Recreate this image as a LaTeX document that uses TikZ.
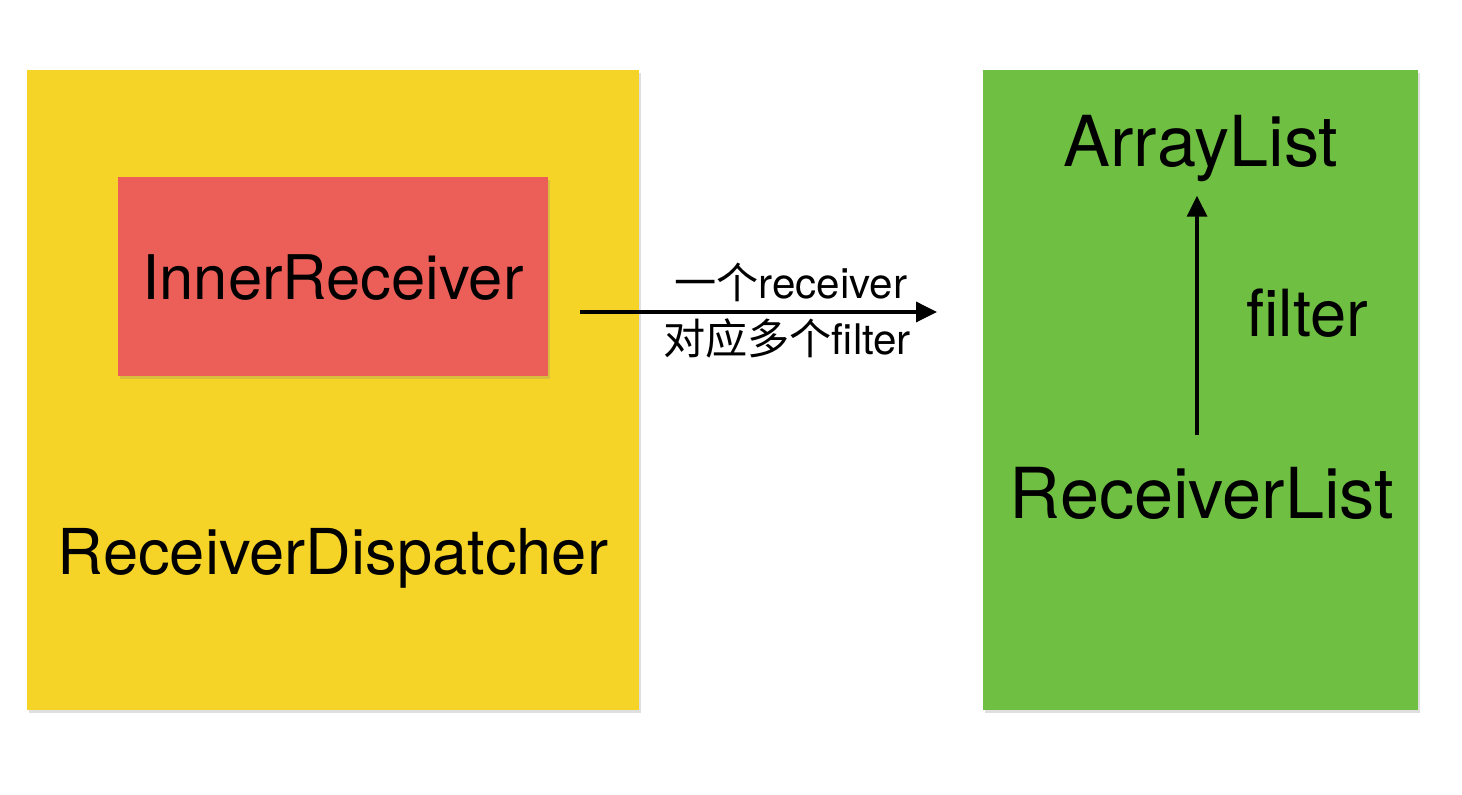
\documentclass[tikz,border=0pt]{standalone}
\usepackage{fontspec}
\setmainfont{TeX Gyre Heros}
\newfontfamily\cjk{Noto Sans CJK SC}
\usepackage{tikz}
\usetikzlibrary{arrows.meta, shadows}
\definecolor{dispatchyellow}{HTML}{F5D327}
\definecolor{innerred}{HTML}{EC5F59}
\definecolor{listgreen}{HTML}{6FBF43}
\tikzset{
    panel/.style={inner sep=0pt, drop shadow={opacity=0.25, shadow xshift=0.02, shadow yshift=-0.03}},
    bigtext/.style={anchor=base, font=\fontsize{20}{24}\selectfont},
    midtext/.style={anchor=base, font=\fontsize{17.5}{21}\selectfont},
    smalltext/.style={font=\fontsize{12}{14}\selectfont},
    link/.style={line width=1pt, -{Triangle[length=0.21cm, width=0.2cm]}}
}

\begin{document}
\begin{tikzpicture}
            \useasboundingbox (0,0) rectangle (14.62,7.94);

            % left panel
            \filldraw[panel, fill=dispatchyellow, draw=none] (0.27,0.84) rectangle (6.39,7.24);
            \filldraw[panel, fill=innerred, draw=none] (1.18,4.18) rectangle (5.48,6.17);
            \node[midtext] (inner) at (3.33,4.94) {InnerReceiver};
            \node[midtext, font=\fontsize{18}{21}\selectfont] (dispatcher) at (3.33,2.19) {ReceiverDispatcher};

            % right panel
            \filldraw[panel, fill=listgreen, draw=none] (9.83,0.84) rectangle (14.18,7.24);
            \node[bigtext] (arraylist) at (12.01,6.27) {ArrayList};
            \node[bigtext] (receiverlist) at (12.02,2.76) {ReceiverList};
            \node[midtext, font=\fontsize{18.5}{22}\selectfont] (filter) at (13.07,4.57) {filter};

            % connectors
            \coordinate (from) at (5.80,4.82);
            \coordinate (to) at (9.37,4.82);
            \draw[link] (from) -- (to)
                node[smalltext, pos=0.59, above=-1pt] (one) {{\cjk 一个}receiver}
                node[smalltext, pos=0.58, below=-2pt] (many) {{\cjk 对应多个}filter};
            \draw[link, shorten <=0.19cm, shorten >=0.01cm] (receiverlist.north -| 11.97,0) -- (arraylist.south -| 11.97,0);
        \end{tikzpicture}
\end{document}
